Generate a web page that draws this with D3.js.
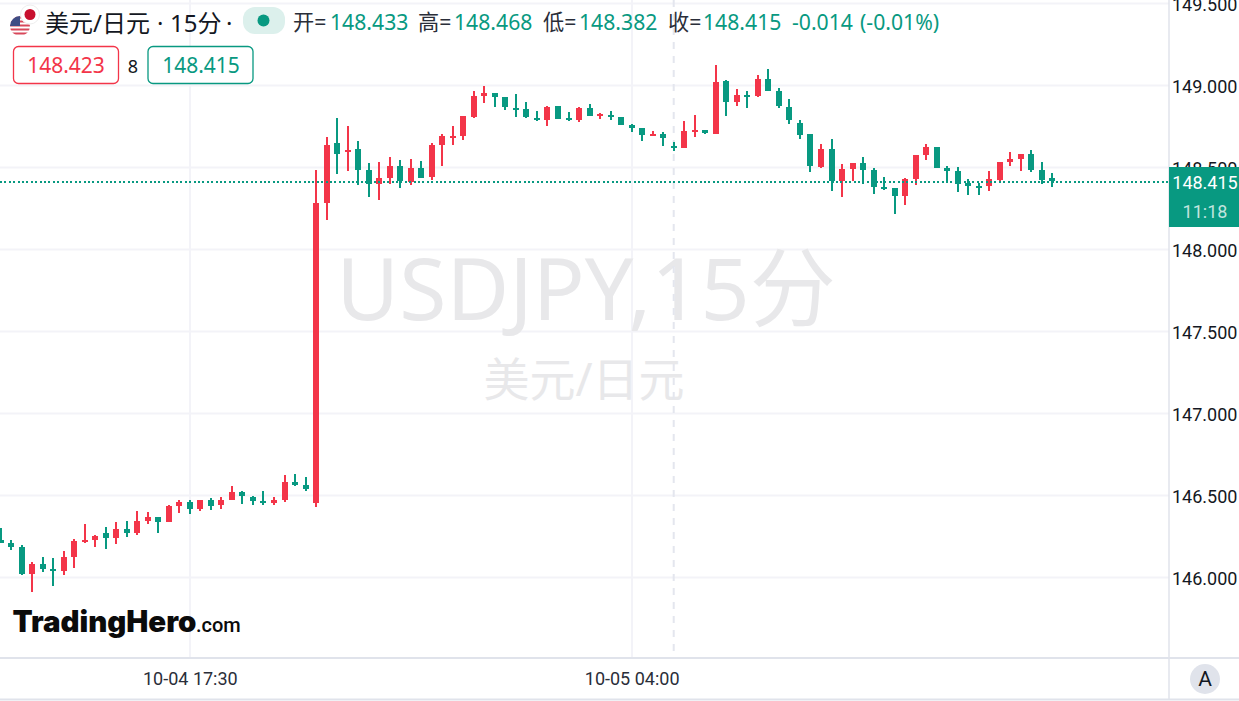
<!DOCTYPE html>
<html><head><meta charset="utf-8">
<script src="https://cdn.jsdelivr.net/npm/d3@7"></script>
<style>
html,body{margin:0;padding:0;background:#fff;overflow:hidden}
svg{display:block}
text{font-family:"Noto Sans","Noto Sans CJK SC",sans-serif}
</style></head><body>
<svg id="c" width="1239" height="701"></svg>
<script>
const opens=[146.229,146.210,146.186,146.021,146.082,146.052,146.040,146.125,146.216,146.229,146.271,146.241,146.296,146.271,146.345,146.369,146.338,146.436,146.460,146.418,146.473,146.442,146.473,146.521,146.491,146.466,146.454,146.473,146.582,146.564,
146.454,148.284,148.649,148.595,148.613,148.485,148.399,148.436,148.509,148.412,148.497,148.442,148.637,148.686,148.692,148.808,148.936,148.954,148.930,148.863,148.857,148.802,148.790,148.875,148.802,148.790,148.863,148.814,148.820,148.808,
148.759,148.741,148.698,148.704,148.631,148.619,148.723,148.729,148.704,149.028,148.899,148.942,148.936,149.040,148.967,148.869,148.771,148.704,148.503,148.613,148.418,148.491,148.528,148.485,148.381,148.375,148.326,148.430,148.576,148.625,
148.497,148.479,148.405,148.387,148.387,148.424,148.534,148.552,148.582,148.485,148.433];
const closes=[146.210,146.186,146.021,146.082,146.052,146.040,146.125,146.223,146.229,146.253,146.241,146.296,146.271,146.345,146.369,146.338,146.436,146.460,146.418,146.473,146.436,146.473,146.521,146.497,146.466,146.454,146.473,146.582,146.564,146.540,
148.284,148.637,148.582,148.607,148.485,148.399,148.436,148.509,148.418,148.497,148.436,148.637,148.692,148.692,148.814,148.936,148.954,148.930,148.869,148.851,148.808,148.790,148.869,148.796,148.790,148.863,148.814,148.826,148.808,148.759,
148.741,148.698,148.704,148.680,148.619,148.723,148.729,148.710,149.021,148.899,148.942,148.936,149.040,148.967,148.875,148.790,148.698,148.509,148.613,148.418,148.491,148.528,148.485,148.381,148.369,148.326,148.430,148.576,148.625,148.497,
148.479,148.399,148.387,148.375,148.430,148.534,148.552,148.582,148.485,148.424,148.415];
const highs=[146.302,146.229,146.198,146.095,146.125,146.119,146.162,146.235,146.326,146.259,146.308,146.338,146.345,146.405,146.399,146.369,146.442,146.473,146.473,146.473,146.485,146.491,146.558,146.527,146.497,146.527,146.491,146.625,146.631,146.613,
148.485,148.686,148.802,148.753,148.662,148.527,148.534,148.564,148.546,148.552,148.540,148.649,148.704,148.753,148.814,148.966,148.997,148.954,148.930,148.948,148.899,148.844,148.875,148.875,148.838,148.869,148.887,148.832,148.844,148.808,
148.765,148.741,148.723,148.716,148.655,148.784,148.820,148.729,149.125,149.034,148.979,148.967,149.064,149.101,148.985,148.918,148.790,148.704,148.643,148.674,148.521,148.528,148.564,148.497,148.442,148.375,148.436,148.576,148.643,148.625,
148.509,148.503,148.430,148.405,148.479,148.534,148.595,148.582,148.607,148.534,148.468];
const lows=[146.210,146.168,146.015,145.912,146.034,145.948,146.015,146.058,146.210,146.186,146.174,146.204,146.247,146.259,146.326,146.271,146.338,146.393,146.387,146.405,146.412,146.418,146.473,146.448,146.442,146.442,146.442,146.460,146.558,146.527,
146.430,148.180,148.460,148.479,148.393,148.320,148.302,148.399,148.375,148.393,148.436,148.424,148.509,148.637,148.668,148.802,148.893,148.869,148.851,148.808,148.802,148.784,148.753,148.796,148.784,148.777,148.814,148.796,148.790,148.759,
148.716,148.662,148.698,148.631,148.601,148.619,148.686,148.704,148.704,148.814,148.875,148.863,148.930,148.967,148.863,148.765,148.674,148.473,148.497,148.357,148.320,148.418,148.399,148.338,148.363,148.216,148.271,148.393,148.546,148.497,
148.412,148.351,148.332,148.332,148.357,148.412,148.509,148.479,148.473,148.399,148.382];
const priceTicks=[149.5,149,148.5,148,147.5,147,146.5,146];
const timeTicks=[18,60];
const timeLabels=["10-04 17:30","10-05 04:00"];
const lastPrice=148.415, crossIndex=64;

const UP="#f33549",DOWN="#089981",GRID="#f3f3f8",BORDER="#e0e3eb";
const W=1239,H=701,plotR=1169,plotB=658;
const svg=d3.select("#c");
const x=d3.scaleLinear().domain([0,100]).range([0.5,1052.4]);
const y=d3.scaleLinear().domain([146,149.5]).range([577.5,3.5]);

// grid
svg.append("g").selectAll("line").data(priceTicks).join("line")
 .attr("x1",0).attr("x2",plotR).attr("y1",d=>y(d)).attr("y2",d=>y(d)).attr("stroke",GRID).attr("stroke-width",2);
svg.append("g").selectAll("line").data(timeTicks).join("line")
 .attr("x1",d=>Math.round(x(d))).attr("x2",d=>Math.round(x(d))).attr("y1",0).attr("y2",plotB).attr("stroke",GRID).attr("stroke-width",2);

// watermark
svg.append("text").attr("x",586).attr("y",320).attr("text-anchor","middle").attr("font-size",86).attr("fill","#e8e8ea").text("USDJPY,15分");
svg.append("text").attr("x",584).attr("y",396).attr("text-anchor","middle").attr("font-size",46).attr("fill","#e8e8ea").text("美元/日元");

// crosshair
svg.append("line").attr("x1",x(crossIndex)).attr("x2",x(crossIndex)).attr("y1",0).attr("y2",plotB)
 .attr("stroke","#e4e6ee").attr("stroke-width",2).attr("stroke-dasharray","7 7");

// candles
const idx=d3.range(opens.length);
const col=i=>closes[i]>=opens[i]?UP:DOWN;
const g=svg.append("g").attr("shape-rendering","crispEdges");
g.selectAll(".w").data(idx).join("rect").attr("class","w")
 .attr("x",i=>Math.round(x(i))-1).attr("width",2)
 .attr("y",i=>y(highs[i])).attr("height",i=>Math.max(y(lows[i])-y(highs[i]),1)).attr("fill",col);
g.selectAll(".b").data(idx).join("rect").attr("class","b")
 .attr("x",i=>Math.round(x(i))-3).attr("width",6)
 .attr("y",i=>y(Math.max(opens[i],closes[i]))).attr("height",i=>Math.max(Math.abs(y(opens[i])-y(closes[i])),2)).attr("fill",col);

// price line
svg.append("line").attr("x1",0).attr("x2",plotR).attr("y1",y(lastPrice)+.6).attr("y2",y(lastPrice)+.6)
 .attr("stroke",DOWN).attr("stroke-width",2).attr("stroke-dasharray","2 2.4").attr("shape-rendering","crispEdges");

// axes
const axR=svg.append("g").attr("transform",`translate(${plotR},1)`)
 .call(d3.axisRight(y).tickValues(priceTicks).tickSize(0).tickPadding(3).tickFormat(d3.format(".3f")));
axR.select(".domain").remove();
axR.selectAll("text").attr("font-size",18).attr("fill","#131722").style("font-family","Roboto");
svg.append("line").attr("x1",plotR).attr("x2",plotR).attr("y1",0).attr("y2",H-2).attr("stroke",BORDER).attr("stroke-width",1.5);
const axB=svg.append("g").attr("transform",`translate(0,${plotB})`)
 .call(d3.axisBottom(x).tickValues(timeTicks).tickSize(0).tickPadding(14).tickFormat((d,i)=>timeLabels[i]));
axB.select(".domain").remove();
axB.selectAll("text").attr("font-size",18).attr("fill","#2a2e39").style("font-family","Roboto");
svg.append("line").attr("x1",0).attr("x2",W).attr("y1",plotB).attr("y2",plotB).attr("stroke",BORDER).attr("stroke-width",2);
svg.append("line").attr("x1",0).attr("x2",W).attr("y1",H-1.5).attr("y2",H-1.5).attr("stroke",BORDER).attr("stroke-width",2);

// last price tag
svg.append("rect").attr("x",plotR).attr("y",167).attr("width",W-plotR).attr("height",60).attr("fill",DOWN);
svg.append("text").attr("x",1205).attr("y",189).attr("text-anchor","middle").attr("font-size",18).attr("fill","#fff").style("font-family","Roboto").text(d3.format(".3f")(lastPrice));
svg.append("text").attr("x",1205).attr("y",218).attr("text-anchor","middle").attr("font-size",18).attr("fill","#fff").attr("fill-opacity",.75).style("font-family","Roboto").text("11:18");

// flags
const defs=svg.append("defs");
defs.append("clipPath").attr("id","us").append("circle").attr("cx",20).attr("cy",26).attr("r",10);
const us=svg.append("g").attr("clip-path","url(#us)");
us.append("rect").attr("x",10).attr("y",16).attr("width",21).attr("height",20).attr("fill","#fff");
d3.range(0,5).forEach(k=>us.append("rect").attr("x",10).attr("y",16.5+k*4).attr("width",21).attr("height",2).attr("fill","#d8485a"));
us.append("rect").attr("x",10).attr("y",16).attr("width",10).attr("height",10).attr("fill","#3f4d85");
svg.append("circle").attr("cx",30).attr("cy",14.5).attr("r",9.5).attr("fill","#fff").attr("stroke","#eee");
svg.append("circle").attr("cx",30).attr("cy",14.5).attr("r",5.5).attr("fill","#c8102e");

// legend
const seg=(xx,yy,t,fill,size=21.2)=>svg.append("text").attr("x",xx).attr("y",yy).attr("font-size",size).attr("fill",fill).text(t);
seg(45,32,"美元/日元","#131722",24);
seg(157,32,"·","#131722",24);
seg(170,32,"15分","#131722",24);
seg(226,32,"·","#131722",24);
svg.append("rect").attr("x",243).attr("y",7).attr("width",42).attr("height",27).attr("rx",12).attr("fill","#dcf0ec");
svg.append("circle").attr("cx",263.5).attr("cy",20.5).attr("r",6).attr("fill",DOWN);
[[293,"开="],[418,"高="],[543,"低="],[668,"收="]].forEach(d=>seg(d[0],30,d[1],"#2a2e39"));
[[330,"148.433"],[454,"148.468"],[579,"148.382"],[703,"148.415"],[792,"-0.014"],[860,"(-0.01%)"]].forEach(d=>seg(d[0],30,d[1],DOWN));

svg.append("rect").attr("x",13.5).attr("y",46.5).attr("width",105).attr("height",37).attr("rx",5).attr("fill","#fff").attr("stroke",UP).attr("stroke-width",1.3);
svg.append("text").attr("x",66).attr("y",73).attr("text-anchor","middle").attr("font-size",21).attr("fill",UP).text("148.423");
svg.append("text").attr("x",133).attr("y",73).attr("text-anchor","middle").attr("font-size",18).attr("fill","#131722").text("8");
svg.append("rect").attr("x",148).attr("y",46.5).attr("width",105).attr("height",37).attr("rx",5).attr("fill","#fff").attr("stroke",DOWN).attr("stroke-width",1.3);
svg.append("text").attr("x",201).attr("y",73).attr("text-anchor","middle").attr("font-size",21).attr("fill",DOWN).text("148.415");

// logo
svg.append("text").attr("x",12.5).attr("y",632).attr("font-size",29.4).attr("font-weight",900).attr("fill","#0b0b0b").style("font-family","Inter").text("TradingHero");
svg.append("text").attr("x",196).attr("y",632).attr("font-size",20).attr("font-weight",500).attr("fill","#0b0b0b").style("font-family","Roboto").text(".com");

// auto button
svg.append("circle").attr("cx",1205).attr("cy",679).attr("r",15).attr("fill","#e0e3eb");
svg.append("text").attr("x",1205).attr("y",686).attr("text-anchor","middle").attr("font-size",21).attr("fill","#131722").style("font-family","Roboto").text("A");
</script></body></html>
